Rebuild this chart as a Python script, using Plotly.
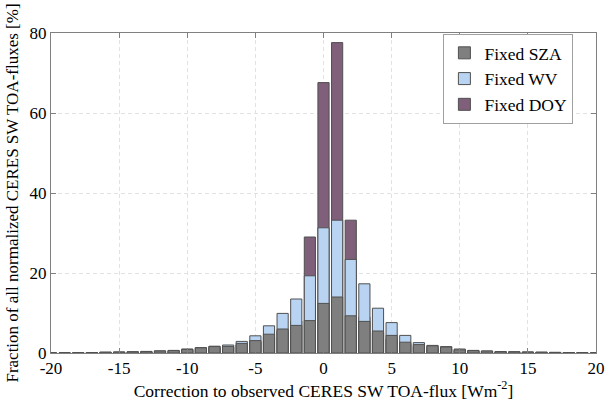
import plotly.graph_objects as go

x_vals = list(range(-20, 21))

sza = [0, 0.02, 0.05, 0.1, 0.2, 0.25, 0.3, 0.35, 0.5, 0.6, 0.9, 1.3, 1.6, 1.65, 2.4, 3.1, 4.7, 6.0, 6.9, 8.1,
       12.4, 14.0, 9.3, 7.9, 5.5, 4.4, 2.7, 2.1, 1.8, 1.5, 0.8, 0.6, 0.5, 0.35, 0.3, 0.25, 0.2, 0.15, 0.1, 0.05, 0]
wv = [0, 0.02, 0.05, 0.1, 0.2, 0.25, 0.3, 0.4, 0.55, 0.65, 1.0, 1.35, 1.7, 2.0, 2.9, 4.3, 6.8, 9.9, 13.5, 19.3,
      31.3, 33.2, 23.4, 17.3, 11.2, 7.6, 4.4, 2.6, 1.9, 1.6, 1.0, 0.65, 0.5, 0.35, 0.3, 0.25, 0.2, 0.15, 0.1, 0.05, 0]
doy = [0, 0.01, 0.03, 0.05, 0.1, 0.15, 0.2, 0.25, 0.3, 0.4, 0.6, 0.9, 1.2, 1.4, 2.0, 2.8, 4.0, 5.5, 8.0, 29.0,
       67.6, 77.6, 33.2, 9.0, 5.0, 3.5, 2.2, 1.6, 1.2, 1.0, 0.6, 0.4, 0.3, 0.25, 0.2, 0.15, 0.1, 0.08, 0.05, 0.02, 0]

x_ticks = [-20, -15, -10, -5, 0, 5, 10, 15, 20]
x_ticklabels = ["-20", "-15", "-10", "-5", "0", "5", "10", "15", "20"]
y_ticks = [0, 20, 40, 60, 80]

series = [
    ("Fixed DOY", doy, "#7f5f7a"),
    ("Fixed WV", wv, "#b8d4f2"),
    ("Fixed SZA", sza, "#7f7f7f"),
]

fig = go.Figure()
for name, vals, color in series:
    fig.add_trace(go.Bar(
        x=x_vals, y=vals, name=name, width=0.82,
        marker=dict(color=color, line=dict(color="#505050", width=1)),
    ))

ff = "Liberation Serif"
axis_common = dict(
    showline=True, linecolor="#808080", linewidth=1, mirror="ticks",
    ticks="inside", ticklen=5, tickcolor="#808080",
    showgrid=True, gridcolor="#e2e2e2", griddash="4px,3px", gridwidth=1,
    zeroline=False,
    tickfont=dict(family=ff, size=17, color="black"),
)

fig.update_layout(
    width=615, height=405,
    barmode="overlay",
    paper_bgcolor="white", plot_bgcolor="white",
    margin=dict(l=51, r=10, t=33, b=49),
    font=dict(family=ff, size=17, color="black"),
    xaxis=dict(range=[-20, 20], tickvals=x_ticks, ticktext=x_ticklabels,
               title=dict(text="Correction to observed CERES SW TOA-flux [Wm<sup>-2</sup>]",
                          font=dict(family=ff, size=17.5), standoff=4),
               **axis_common),
    yaxis=dict(range=[0, 80], tickvals=y_ticks,
               title=dict(text="Fraction of all normalized CERES SW TOA-fluxes [%]",
                          font=dict(family=ff, size=17), standoff=6),
               **axis_common),
    legend=dict(x=0.72, y=0.997, xanchor="left", yanchor="top",
                traceorder="reversed", bgcolor="white",
                bordercolor="#a0a0a0", borderwidth=1,
                font=dict(family=ff, size=17.5)),
)

fig.write_html("out.html")
